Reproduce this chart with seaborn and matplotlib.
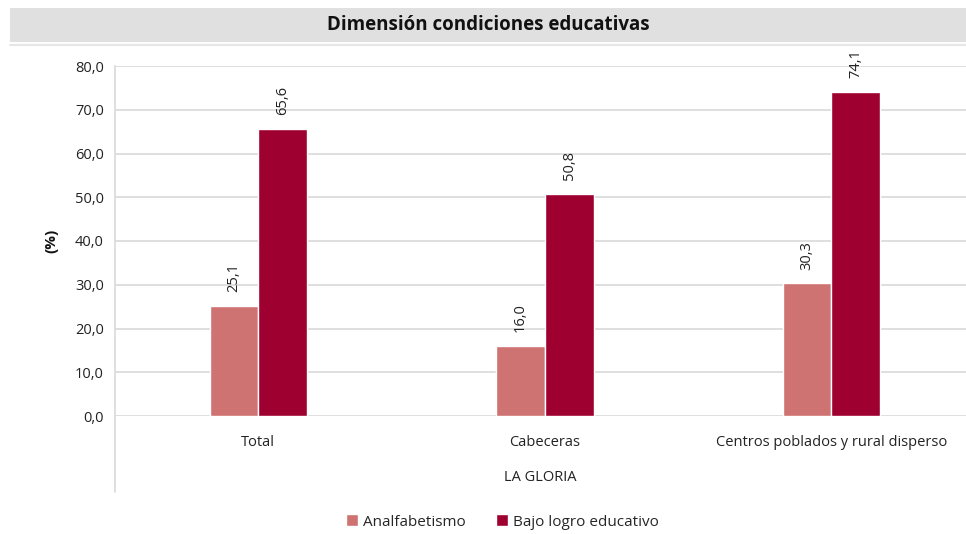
import matplotlib
matplotlib.use("Agg")
import matplotlib.pyplot as plt
from matplotlib.lines import Line2D
from matplotlib.patches import Rectangle
import seaborn as sns
import pandas as pd

categories = ["Total", "Cabeceras", "Centros poblados y rural disperso"]
analfabetismo = [25.1, 16.0, 30.3]
bajo_logro = [65.6, 50.8, 74.1]
series_names = ["Analfabetismo", "Bajo logro educativo"]
colors = ["#CF7272", "#9E0030"]
yticks = [0, 10, 20, 30, 40, 50, 60, 70, 80]
title = "Dimensión condiciones educativas"
group_label = "LA GLORIA"

df = pd.DataFrame({
    "categoria": categories * 2,
    "serie": [series_names[0]] * 3 + [series_names[1]] * 3,
    "valor": analfabetismo + bajo_logro,
})

sns.set_theme(style="white")
plt.rcParams["font.family"] = ["Open Sans", "DejaVu Sans"]

W, H = 966, 534
fig = plt.figure(figsize=(W / 100, H / 100), dpi=100)
ax = fig.add_axes([115 / W, (H - 416) / H, (966 - 115) / W, (416 - 66) / H])

sns.barplot(data=df, x="categoria", y="valor", hue="serie", order=categories,
            hue_order=series_names, palette=colors, saturation=1, width=0.34, ax=ax,
            edgecolor="white", linewidth=1.0, legend=False)

ax.set_ylim(0, 80)
ax.set_xlim(-0.5, 2.47)
ax.set_yticks(yticks)
ax.set_yticklabels([f"{v:.1f}".replace(".", ",") for v in yticks], fontsize=10.5, color="#222222")
ax.yaxis.grid(True, color="#D9D9D9", linewidth=1.2)
ax.set_axisbelow(True)
for s in ["top", "right", "bottom"]:
    ax.spines[s].set_visible(False)
ax.spines["left"].set_color("#D9D9D9")
ax.spines["left"].set_linewidth(1.2)
ax.tick_params(axis="both", length=0, pad=8)
ax.set_xticks(range(len(categories)))
ax.set_xticklabels(categories, fontsize=10.5, color="#222222")
ax.tick_params(axis="x", pad=14)
ax.set_xlabel(group_label, fontsize=10.5, color="#222222", labelpad=14)
ax.set_ylabel("(%)", fontsize=11, fontweight="bold", color="#111111", labelpad=12)

for container in ax.containers:
    for bar in container:
        h = bar.get_height()
        ax.annotate(f"{h:.1f}".replace(".", ","),
                    (bar.get_x() + bar.get_width() / 2, h),
                    xytext=(0, 10), textcoords="offset points",
                    rotation=90, ha="center", va="bottom",
                    fontsize=10.5, color="#222222")

# left axis line continues down through the category area
fig.add_artist(Line2D([115 / W, 115 / W], [(H - 416) / H, (H - 492) / H],
                      color="#D9D9D9", linewidth=1.2))

# title band
fig.add_artist(Rectangle((10 / W, (H - 42) / H), (966 - 10) / W, 34 / H,
                         facecolor="#E1E0E1", edgecolor="none"))
fig.add_artist(Line2D([10 / W, 1], [(H - 45) / H, (H - 45) / H],
                      color="#E6E6E6", linewidth=1.5))
fig.text((10 + 966) / 2 / W, (H - 25) / H, title, ha="center", va="center",
         fontsize=13.5, fontweight="bold", color="#111111")

handles = [Rectangle((0, 0), 1, 1, facecolor=c) for c in colors]
fig.legend(handles, series_names, loc="center", bbox_to_anchor=(0.52, (H - 522) / H),
           ncol=2, frameon=False, fontsize=11, handlelength=0.8, handleheight=0.8,
           handletextpad=0.3, columnspacing=2.0)

fig.savefig("out.png", dpi=100, facecolor="white")
